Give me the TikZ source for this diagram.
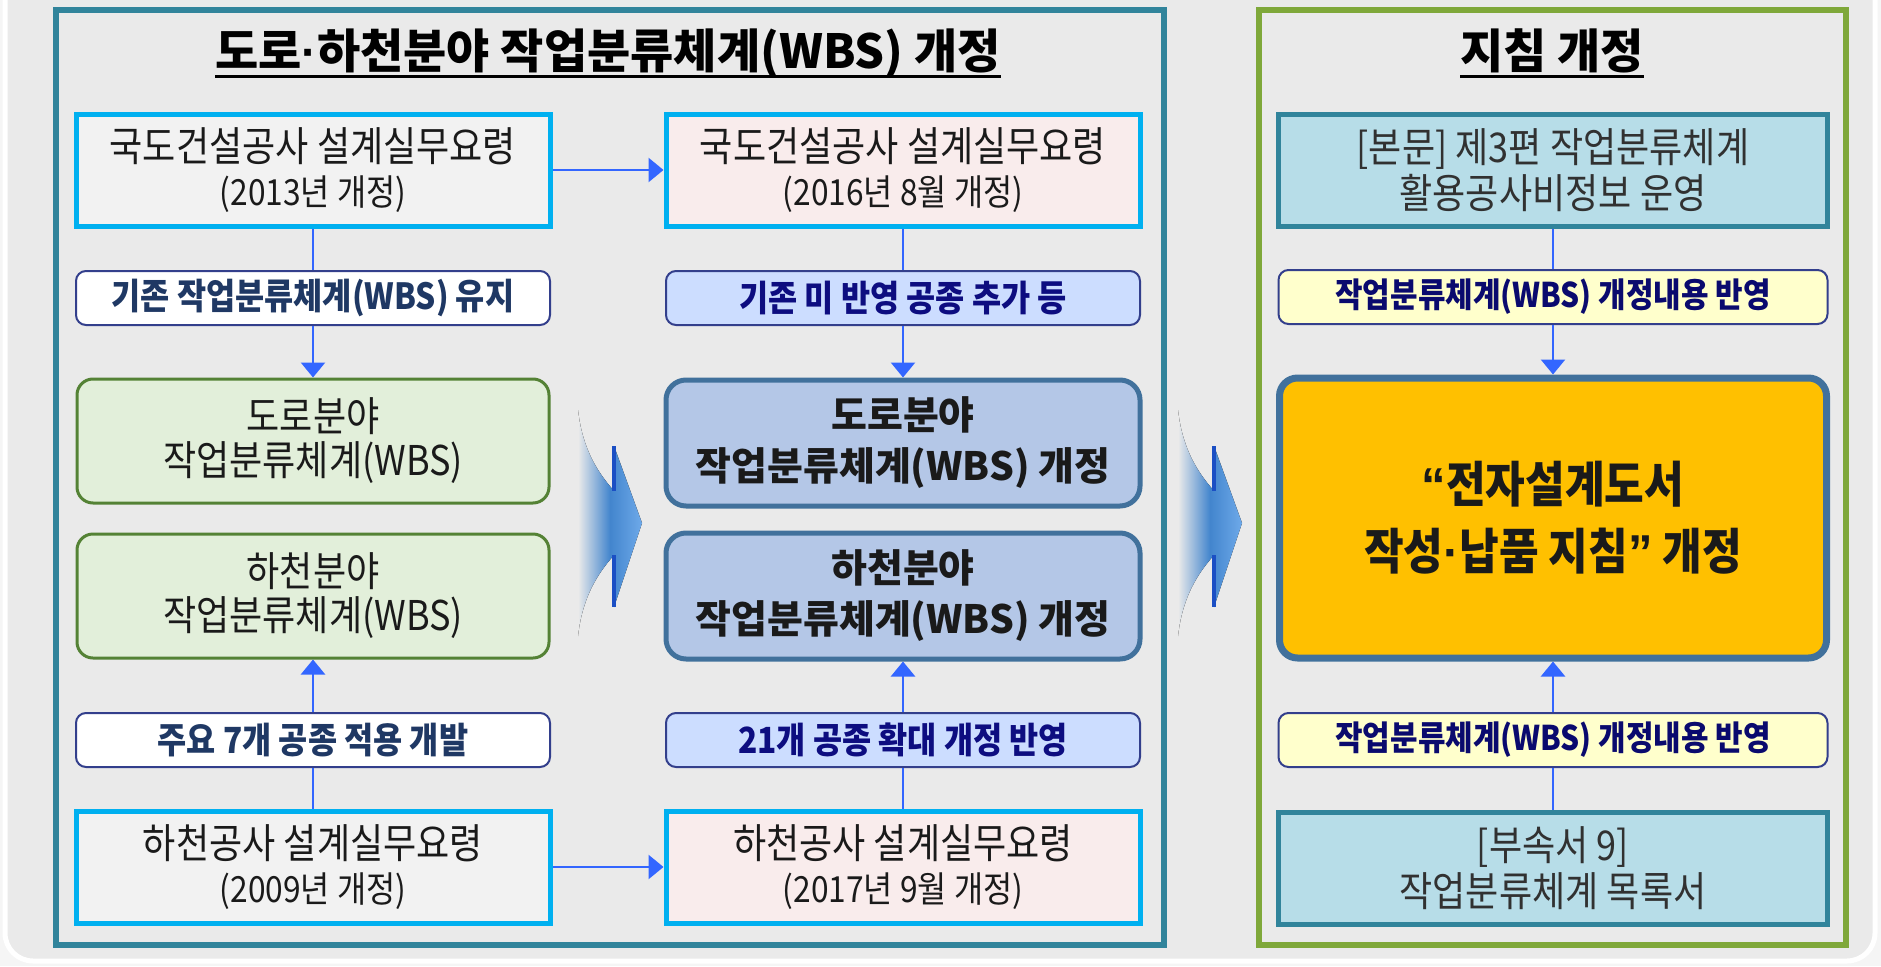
\documentclass[tikz,border=0pt]{standalone}
\usepackage{fontspec}
\setmainfont{Noto Sans CJK KR}
\newfontfamily\krn{Noto Sans CJK KR}[FakeStretch=0.88]
\newfontfamily\krw{Noto Sans CJK KR}
\newfontfamily\latinpunct{Liberation Sans}
\usetikzlibrary{arrows.meta,shadows}
\definecolor{outerbg}{HTML}{F5F5F5}
\definecolor{pagebg}{HTML}{EAEAEA}
\definecolor{tealline}{HTML}{31849B}
\definecolor{greenline}{HTML}{7FA83A}
\definecolor{docline}{HTML}{00B0F0}
\definecolor{docgrey}{HTML}{F2F2F2}
\definecolor{docpink}{HTML}{F9ECEC}
\definecolor{noteline}{HTML}{333F8C}
\definecolor{noteleft}{HTML}{1F3864}
\definecolor{notemid}{HTML}{CCDDFF}
\definecolor{notemidtext}{HTML}{0D0D80}
\definecolor{notelemon}{HTML}{FFFFCC}
\definecolor{noterighttext}{HTML}{0A0A6E}
\definecolor{wbsline}{HTML}{548235}
\definecolor{wbsfill}{HTML}{E2EFDA}
\definecolor{revline}{HTML}{41719C}
\definecolor{revfill}{HTML}{B4C7E7}
\definecolor{guidefill}{HTML}{B7DDE8}
\definecolor{guideedge}{HTML}{31849B}
\definecolor{finalfill}{HTML}{FFC000}
\definecolor{boxtext}{HTML}{1A1A1A}
\definecolor{linkblue}{HTML}{3366FF}
\definecolor{chevblue}{HTML}{4A94E4}
\definecolor{chevbarblue}{HTML}{1B4FC4}
\newcommand{\titleline}[1]{\setbox0\hbox{#1}\rlap{\vrule width\wd0 height -7pt depth 10pt}\box0}
\newcommand{\subline}[1]{{\fontsize{36}{44}\selectfont #1}}
\newcommand{\mdot}{{\latinpunct\char"00B7}}
\newcommand{\openq}{{\latinpunct\char"201C}}
\newcommand{\closeq}{{\latinpunct\char"201D}}
\tikzset{
  panel/.style={line width=6pt, fill=pagebg, drop shadow={shadow xshift=3pt, shadow yshift=-3pt, opacity=0.35}},
  titletext/.style={inner sep=0pt, text=black, font=\krw\bfseries\fontsize{47}{52}\selectfont},
  docbox/.style={draw=docline, line width=5pt, minimum width=474pt, minimum height=112pt, inner sep=0pt, align=center, text=boxtext, font=\krn\fontsize{41}{44}\selectfont},
  notebox/.style={draw=noteline, line width=2pt, rounded corners=10pt, minimum width=474pt, minimum height=54pt, inner sep=0pt, font=\krn\bfseries\fontsize{36}{40}\selectfont},
  wbsbox/.style={draw=wbsline, fill=wbsfill, line width=3pt, rounded corners=16pt, minimum width=472pt, minimum height=124pt, inner sep=0pt, align=center, text=boxtext, font=\krn\fontsize{41}{44}\selectfont},
  revbox/.style={draw=revline, fill=revfill, line width=5pt, rounded corners=20pt, minimum width=474pt, minimum height=126pt, inner sep=0pt, align=center, text=boxtext, font=\krw\bfseries\fontsize{39}{51}\selectfont},
  guidebox/.style={draw=guideedge, fill=guidefill, line width=5pt, minimum width=549pt, minimum height=112pt, inner sep=0pt, align=center, text=boxtext!90, font=\krn\fontsize{41}{46}\selectfont},
  finalbox/.style={draw=revline, fill=finalfill, line width=7pt, rounded corners=18pt, minimum width=547pt, minimum height=280pt, inner sep=0pt, align=center, text=boxtext, font=\krn\bfseries\fontsize{49}{67}\selectfont},
  lemonnote/.style={notebox, minimum width=549pt, fill=notelemon, text=noterighttext, font=\krn\bfseries\fontsize{34}{40}\selectfont},
  chevron/.style={left color=pagebg, right color=chevblue!80!white, middle color=chevblue!90!black},
  chevbar/.style={draw=chevbarblue, line width=4pt},
  link/.style={draw=linkblue, line width=2.5pt},
  linkarrow/.style={link, -{Triangle[length=15pt,width=24pt]}},
}
\begin{document}
\begin{tikzpicture}[x=1pt,y=-1pt]
\useasboundingbox (0,0) rectangle (1881,966);
% backdrop
\fill[outerbg] (0,0) rectangle (1881,966);
\draw[white, line width=5pt, fill=pagebg, rounded corners=28pt] (5,-40) rectangle (1875,961);

% two panels
\draw[panel, draw=tealline] (56,10) rectangle (1164,945);
\draw[panel, draw=greenline] (1259,10) rectangle (1846,945);

\node[titletext, anchor=base] (wbstitle) at (608,68) {\titleline{도로\mdot 하천분야 작업분류체계(WBS) 개정}};
\node[titletext, anchor=base] (guidetitle) at (1552,68) {\titleline{지침 개정}};

% big chevrons between the columns
\foreach \dx in {0,600} {
  \begin{scope}[xshift=\dx pt]
    \fill[chevron] (578,410) .. controls (583,455) and (603,478) .. (614,491) -- (614,446) -- (642,523) -- (614,607) -- (614,555) .. controls (603,568) and (583,591) .. (578,636) -- cycle;
    \draw[chevbar] (614,446) -- (614,491);
    \draw[chevbar] (614,555) -- (614,607);
  \end{scope}
}

% left column
\node[docbox, fill=docgrey] (roadold) at (313,170) {국도건설공사 설계실무요령\\\subline{(2013년 개정)}};
\node[notebox, fill=white, text=noteleft] (roadkeep) at (313,298) {기존 작업분류체계(WBS) 유지};
\node[wbsbox] (roadwbs) at (313,441) {도로분야\\작업분류체계(WBS)};
\node[wbsbox] (riverwbs) at (313,596) {하천분야\\작업분류체계(WBS)};
\node[notebox, fill=white, text=noteleft] (riverdev) at (313,740) {주요 7개 공종 적용 개발};
\node[docbox, fill=docgrey] (riverold) at (313,867) {하천공사 설계실무요령\\\subline{(2009년 개정)}};

% middle column
\node[docbox, fill=docpink] (roadnew) at (903,170) {국도건설공사 설계실무요령\\\subline{(2016년 8월 개정)}};
\node[notebox, fill=notemid, text=notemidtext] (roadadd) at (903,298) {기존 미 반영 공종 추가 등};
\node[revbox] (roadrev) at (903,443) {도로분야\\작업분류체계(WBS) 개정};
\node[revbox] (riverrev) at (903,596) {하천분야\\작업분류체계(WBS) 개정};
\node[notebox, fill=notemid, text=notemidtext] (riverext) at (903,740) {21개 공종 확대 개정 반영};
\node[docbox, fill=docpink] (rivernew) at (903,867) {하천공사 설계실무요령\\\subline{(2017년 9월 개정)}};

% right column
\node[guidebox] (guidemain) at (1553,170) {[본문] 제3편 작업분류체계\\활용공사비정보 운영};
\node[lemonnote] (mainref) at (1553,297) {작업분류체계(WBS) 개정내용 반영};
\node[finalbox] (guiderev) at (1553,518) {\openq 전자설계도서\\작성\mdot 납품 지침\closeq{} 개정};
\node[lemonnote] (annexref) at (1553,740) {작업분류체계(WBS) 개정내용 반영};
\node[guidebox] (guideannex) at (1553,868) {[부속서 9]\\작업분류체계 목록서};

% connectors
\draw[linkarrow] (roadold) -- (roadnew);
\draw[linkarrow] (riverold) -- (rivernew);
\draw[link] (roadold) -- (roadkeep);
\draw[linkarrow] (roadkeep) -- (roadwbs);
\draw[link] (riverold) -- (riverdev);
\draw[linkarrow] (riverdev) -- (riverwbs);
\draw[link] (roadnew) -- (roadadd);
\draw[linkarrow] (roadadd) -- (roadrev);
\draw[link] (rivernew) -- (riverext);
\draw[linkarrow] (riverext) -- (riverrev);
\draw[link] (guidemain) -- (mainref);
\draw[linkarrow] (mainref) -- (guiderev);
\draw[link] (guideannex) -- (annexref);
\draw[linkarrow] (annexref) -- (guiderev);
\end{tikzpicture}
\end{document}
